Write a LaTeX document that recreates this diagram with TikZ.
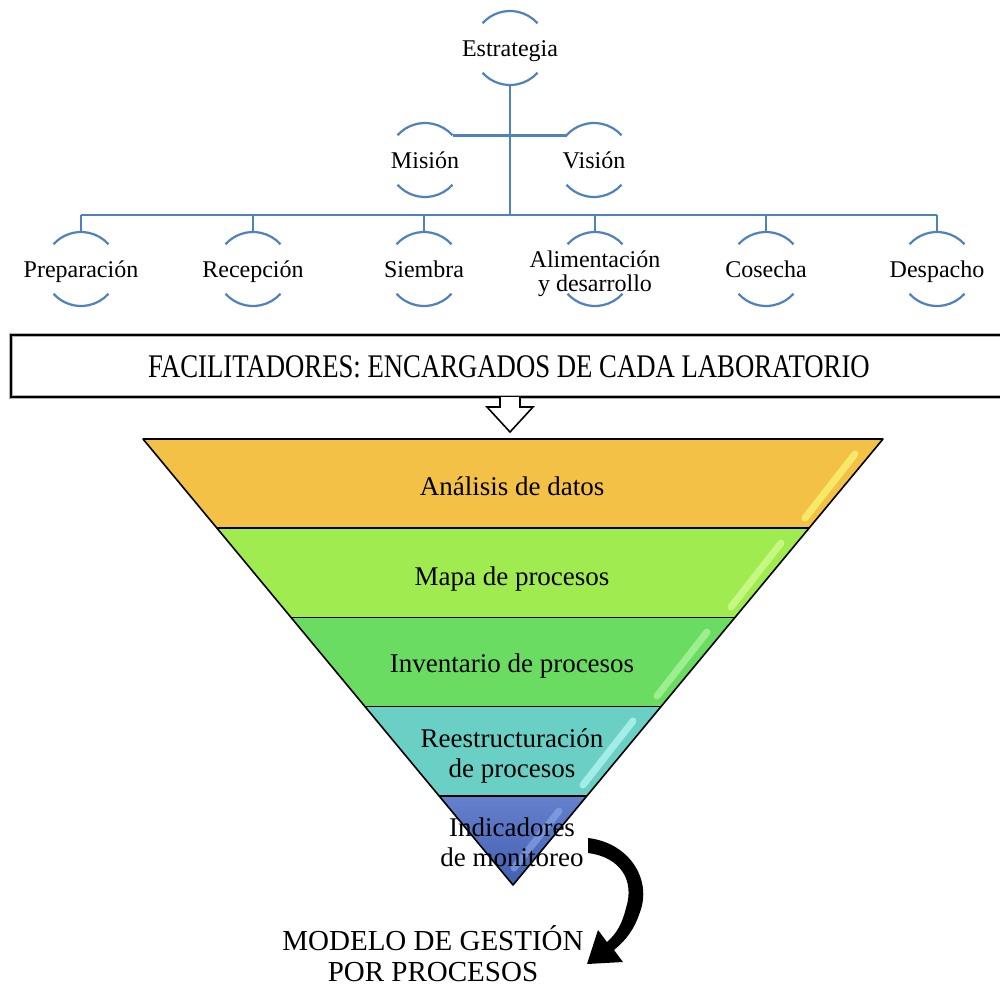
\documentclass[tikz,border=0pt]{standalone}
\usepackage{fontspec}
\setmainfont{Liberation Serif}
\usetikzlibrary{calc}

\definecolor{treeblue}{RGB}{79,129,189}
\definecolor{layA}{RGB}{243,193,69}
\definecolor{layAgl}{RGB}{250,240,110}
\definecolor{layB}{RGB}{160,236,80}
\definecolor{layBgl}{RGB}{205,250,140}
\definecolor{layC}{RGB}{106,220,98}
\definecolor{layCgl}{RGB}{165,242,150}
\definecolor{layD}{RGB}{106,207,196}
\definecolor{layDgl}{RGB}{175,242,238}
\definecolor{layE}{RGB}{74,106,196}
\definecolor{layEgl}{RGB}{140,172,236}

% two arcs of a ring around a tree label (centre given as a coordinate)
\newcommand\ringarcs[1]{%
  \draw[ringarc] ([shift={(138:37pt)}]#1) arc[start angle=138,end angle=42,radius=37pt];
  \draw[ringarc] ([shift={(222:37pt)}]#1) arc[start angle=222,end angle=318,radius=37pt];}

\begin{document}
\begin{tikzpicture}[x=1pt,y=-1pt,
  conn/.style={draw=treeblue, line width=2.6pt},
  ringarc/.style={draw=treeblue, line width=2.2pt},
  lbl/.style={font=\fontsize{24}{26}\selectfont, align=center, inner sep=0pt, anchor=base},
  lay/.style={font=\fontsize{27}{30}\selectfont, align=center, inner sep=0pt, anchor=base},
  layeredge/.style={draw=black, line width=1.6pt, line join=round},
  gloss/.style={line width=7pt, line cap=round, opacity=0.85}]

\useasboundingbox[fill=white] (0,0) rectangle (1000,988);

% ---------- strategy tree ----------
% ring centres
\coordinate (rEstr) at (510,48);
\coordinate (rMis)  at (425,160);
\coordinate (rVis)  at (594,160);
\coordinate (rPrep) at (81,269);
\coordinate (rRecp) at (253,269);
\coordinate (rSiem) at (424,269);
\coordinate (rAlim) at (595,269);
\coordinate (rCose) at (766,269);
\coordinate (rDesp) at (937,269);

% labels sit on their baselines (multi-line: baseline of the last line)
\node[lbl] (estr) at ([yshift=-8pt]rEstr) {Estrategia};
\node[lbl] (mis)  at ([yshift=-8pt]rMis) {Misión};
\node[lbl] (vis)  at ([yshift=-8pt]rVis) {Visión};
\node[lbl] (prep) at ([yshift=-8pt]rPrep) {Preparación};
\node[lbl] (recp) at ([yshift=-8pt]rRecp) {Recepción};
\node[lbl] (siem) at ([yshift=-8pt]rSiem) {Siembra};
\node[lbl] (alim) at ([yshift=-22pt]rAlim) {Alimentación\\[-2pt]y desarrollo};
\node[lbl] (cose) at ([yshift=-8pt]rCose) {Cosecha};
\node[lbl] (desp) at ([yshift=-8pt]rDesp) {Despacho};

\foreach \n in {rEstr,rMis,rVis,rPrep,rRecp,rSiem,rAlim,rCose,rDesp}{\ringarcs{\n}}

\coordinate (hub) at (510,215);
\draw[conn] ([yshift=-37pt]rEstr) -- (hub);
\draw[conn] ([shift={(42:37pt)}]rMis) -- ([shift={(138:37pt)}]rVis);
\draw[conn] (rPrep |- hub) -- (rDesp |- hub);
\foreach \n in {rPrep,rRecp,rSiem,rAlim,rCose,rDesp}{
  \draw[conn] (\n |- hub) -- ([yshift=37pt]\n);}

% ---------- facilitators banner ----------
\draw[gray!60, line width=4pt] (1004,335) -- (11,335) -- (11,397) -- (1004,397);
\draw[black, line width=2pt] (1004,335) -- (11,335) -- (11,397) -- (1004,397);
\node[inner sep=0pt] (fac) at (509,367)
  {\scalebox{0.81}[1]{\fontsize{33}{36}\selectfont FACILITADORES: ENCARGADOS DE CADA LABORATORIO}};
\draw[fill=white, draw=black, line width=1.6pt, line join=miter]
  (500,397) -- (500,407) -- (487,407) -- (510,432) -- (533,407) -- (520,407) -- (520,397);

% ---------- inverted pyramid ----------
\fill[layA] (143,439) -- (883,439) -- (809,528.2) -- (217,528.2) -- cycle;
\fill[layB] (217,528.2) -- (809,528.2) -- (735,617.4) -- (291,617.4) -- cycle;
\fill[layC] (291,617.4) -- (735,617.4) -- (661,706.6) -- (365,706.6) -- cycle;
\fill[layD] (365,706.6) -- (661,706.6) -- (587,795.8) -- (439,795.8) -- cycle;
\shade[top color=layE!85!white, bottom color=layE!90!black]
  (439,795.8) -- (587,795.8) -- (513,885) -- cycle;

% glossy strips along the right side of each band
\draw[gloss, layAgl] (855,454) -- (805,518);
\draw[gloss, layBgl] (781,543) -- (731,607);
\draw[gloss, layCgl] (707,632) -- (657,696);
\draw[gloss, layDgl] (633,721) -- (583,785);
\draw[gloss, layEgl, opacity=0.6] (559,811) -- (514,868);

\draw[layeredge] (143,439) -- (883,439) -- (513,885) -- cycle;
\draw[layeredge] (217,528.2) -- (809,528.2);
\draw[layeredge] (291,617.4) -- (735,617.4);
\draw[layeredge] (365,706.6) -- (661,706.6);
\draw[layeredge] (439,795.8) -- (587,795.8);

\node[lay] (anal) at (512,495) {Análisis de datos};
\node[lay] (mapa) at (512,585) {Mapa de procesos};
\node[lay] (inve) at (512,672) {Inventario de procesos};
\node[lay] (rees) at (512,777) {Reestructuración\\de procesos};
\node[lay] (indi) at (512,866) {Indicadores\\de monitoreo};

% ---------- result ----------
\fill[black] (588,838) .. controls (630,843) and (652,880) .. (640,912)
  .. controls (634,930) and (626,940) .. (614,950)
  -- (623,962) -- (587,964) -- (598,930) -- (607,942)
  .. controls (617,933) and (622,924) .. (626,908)
  .. controls (635,880) and (620,857) .. (588,853) -- cycle;

\node[inner sep=0pt, align=center, font=\fontsize{29}{31}\selectfont] (model) at (433,954)
  {MODELO DE GESTIÓN\\POR PROCESOS};

\end{tikzpicture}
\end{document}
